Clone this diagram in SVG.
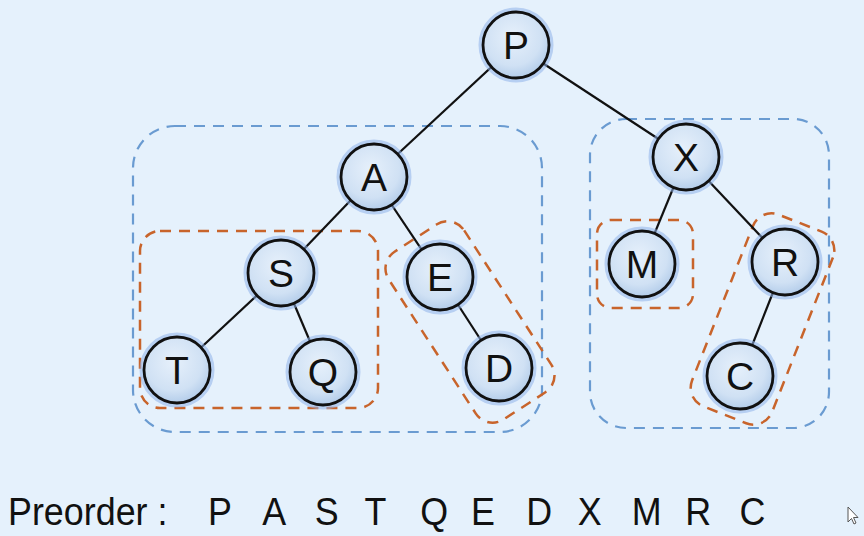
<svg xmlns="http://www.w3.org/2000/svg" width="864" height="536" viewBox="0 0 864 536">
<defs>
<radialGradient id="g" cx="0.45" cy="0.38" r="0.62">
<stop offset="0" stop-color="#e6f0fb"/>
<stop offset="0.7" stop-color="#d0e1f4"/>
<stop offset="1" stop-color="#b4cdea"/>
</radialGradient>
<style>
.bg{fill:#e5f1fc}
.n circle.glow{fill:none;stroke:#8fb3ea;stroke-width:5;opacity:0.55}
.n circle.c{fill:url(#g);stroke:#111;stroke-width:2.8}
.n text{font-family:"Liberation Sans",Arial,sans-serif;font-size:39px;fill:#111;text-anchor:middle;dominant-baseline:central}
.e line{stroke:#111;stroke-width:2.2}
.bd{fill:none;stroke:#6a9bd1;stroke-width:2.2;stroke-dasharray:11 8}
.od{fill:none;stroke:#c8642b;stroke-width:2.5;stroke-dasharray:11 8}
.pre{font-family:"Liberation Sans",Arial,sans-serif;font-size:39px;fill:#111}
.pl{font-family:"Liberation Sans",Arial,sans-serif;font-size:39px;fill:#111;text-anchor:middle}
</style>
</defs>
<rect class="bg" x="0" y="0" width="864" height="536"/>
<g id="groups">
<rect class="bd" x="133" y="126" width="409" height="306" rx="42"/>
<rect class="bd" x="590" y="119" width="239" height="309" rx="36"/>
<rect class="od" x="140" y="231" width="238" height="177" rx="20"/>
<rect class="od" x="597" y="220" width="96" height="88" rx="14"/>
<rect class="od" x="-100" y="-45" width="200" height="90" rx="20" transform="translate(470,322) rotate(57)"/>
<rect class="od" x="-103" y="-43" width="206" height="86" rx="20" transform="translate(762.5,319) rotate(111.5)"/>
</g>
<g id="connectors" class="e">
<line x1="515" y1="45" x2="373" y2="177"/>
<line x1="515" y1="45" x2="686" y2="157"/>
<line x1="373" y1="177" x2="281" y2="273"/>
<line x1="373" y1="177" x2="440" y2="277"/>
<line x1="281" y1="273" x2="177" y2="370"/>
<line x1="281" y1="273" x2="323" y2="372"/>
<line x1="440" y1="277" x2="499" y2="368"/>
<line x1="686" y1="157" x2="642" y2="264"/>
<line x1="686" y1="157" x2="785" y2="262"/>
<line x1="785" y1="262" x2="740" y2="376"/>
</g>
<g id="node-P" class="n" transform="translate(516,45)"><circle class="glow" r="35"/><circle class="c" r="33"/><text>P</text></g>
<g id="node-A" class="n" transform="translate(374,177)"><circle class="glow" r="35"/><circle class="c" r="33"/><text>A</text></g>
<g id="node-S" class="n" transform="translate(281,273)"><circle class="glow" r="35"/><circle class="c" r="33"/><text>S</text></g>
<g id="node-T" class="n" transform="translate(177,370)"><circle class="glow" r="35"/><circle class="c" r="33"/><text>T</text></g>
<g id="node-Q" class="n" transform="translate(323,372)"><circle class="glow" r="35"/><circle class="c" r="33"/><text>Q</text></g>
<g id="node-E" class="n" transform="translate(440,277)"><circle class="glow" r="35"/><circle class="c" r="33"/><text>E</text></g>
<g id="node-D" class="n" transform="translate(499,368)"><circle class="glow" r="35"/><circle class="c" r="33"/><text>D</text></g>
<g id="node-X" class="n" transform="translate(686,157)"><circle class="glow" r="35"/><circle class="c" r="33"/><text>X</text></g>
<g id="node-M" class="n" transform="translate(642,264)"><circle class="glow" r="35"/><circle class="c" r="33"/><text>M</text></g>
<g id="node-R" class="n" transform="translate(785,262)"><circle class="glow" r="35"/><circle class="c" r="33"/><text>R</text></g>
<g id="node-C" class="n" transform="translate(740,376)"><circle class="glow" r="35"/><circle class="c" r="33"/><text>C</text></g>
<g id="preorder" transform="scale(0.92,1)">
<text class="pre" x="8.7" y="525">Preorder :</text>
<text class="pl" x="239" y="525">P</text>
<text class="pl" x="298" y="525">A</text>
<text class="pl" x="355" y="525">S</text>
<text class="pl" x="408" y="525">T</text>
<text class="pl" x="472" y="525">Q</text>
<text class="pl" x="525" y="525">E</text>
<text class="pl" x="586" y="525">D</text>
<text class="pl" x="641" y="525">X</text>
<text class="pl" x="703" y="525">M</text>
<text class="pl" x="759" y="525">R</text>
<text class="pl" x="818" y="525">C</text>
</g>
<path d="M848,507 L848,522 L851.5,518.5 L854,524 L856,523 L853.5,517.5 L858,517.5 Z" fill="#fff" stroke="#555" stroke-width="1"/>
</svg>
